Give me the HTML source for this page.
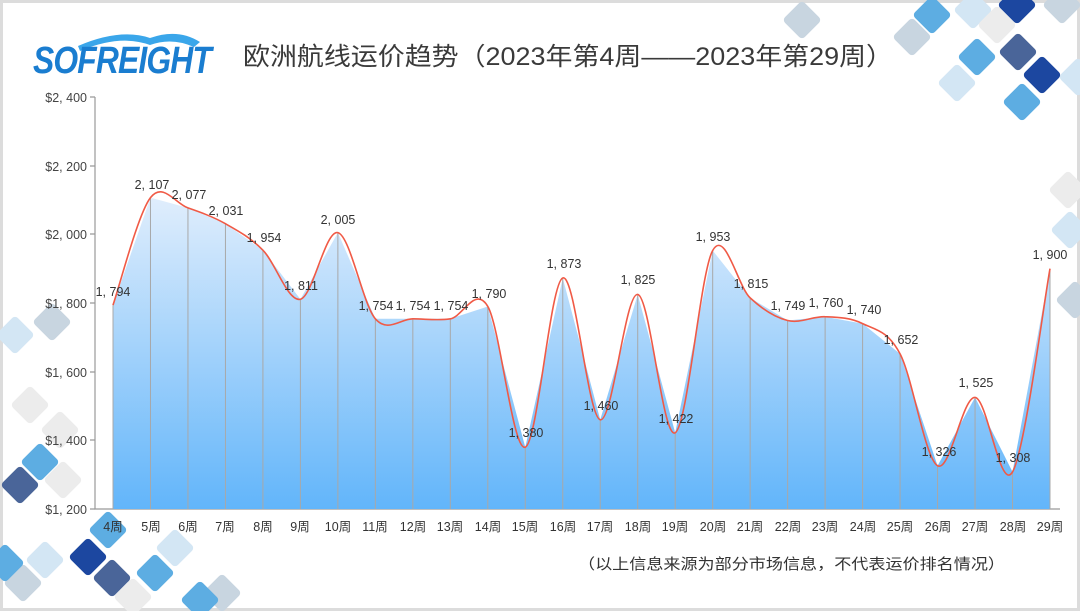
<!DOCTYPE html>
<html><head><meta charset="utf-8"><style>
html,body{margin:0;padding:0;background:#fff}
body{width:1080px;height:611px;overflow:hidden;position:relative}
.fr{position:absolute;left:0;top:0;width:1074px;height:605px;border:3px solid #dcdcdc;}
svg{position:absolute;left:0;top:0}
text{font-family:"Liberation Sans","Noto Sans CJK SC",sans-serif}
</style></head><body>
<div class="fr"></div>
<svg width="1080" height="611" viewBox="0 0 1080 611" xmlns="http://www.w3.org/2000/svg">
<defs>
<linearGradient id="g" gradientUnits="userSpaceOnUse" x1="0" y1="190" x2="0" y2="509">
<stop offset="0" stop-color="#e3effc"/><stop offset="1" stop-color="#62b5fa"/>
</linearGradient>
<g id="d"><rect x="-14" y="-14" width="28" height="28" rx="4" transform="rotate(45)"/></g>
</defs>
<g id="dia"></g>
<!-- logo -->
<path d="M78 46 Q120 28 150 38 Q178 28 200 42 L194 47 Q172 37 150 45 Q120 34 80 51Z" fill="#3aa6ea"/>
<text x="33" y="73" font-size="38" font-weight="bold" font-style="italic" fill="#1a7dd0" letter-spacing="-1" textLength="178" lengthAdjust="spacingAndGlyphs">SOFREIGHT</text>
<text x="243" y="65" font-size="25" fill="#3a3a3a" textLength="650" lengthAdjust="spacingAndGlyphs">欧洲航线运价趋势（2023年第4周——2023年第29周）</text>
<!-- axes -->
<g stroke="#999" stroke-width="1.2" fill="none">
<path d="M95 97V509H1060"/>
<path d="M90 97H95M90 166H95M90 234H95M90 303H95M90 372H95M90 440H95M90 509H95"/>
</g>
<g font-size="12.5" fill="#444" text-anchor="end">
<text x="87" y="102">$2, 400</text><text x="87" y="171">$2, 200</text><text x="87" y="239">$2, 000</text>
<text x="87" y="308">$1, 800</text><text x="87" y="377">$1, 600</text><text x="87" y="445">$1, 400</text><text x="87" y="514">$1, 200</text>
</g>
<path id="area" fill="url(#g)"/>
<g id="vl" stroke="#a8a8a8" stroke-width="1"></g>
<path id="curve" fill="none" stroke="#f05a46" stroke-width="1.6"/>
<g font-size="12.5" fill="#333" text-anchor="middle">
<text x="113" y="296">1, 794</text><text x="152" y="189">2, 107</text><text x="189" y="199">2, 077</text><text x="226" y="215">2, 031</text>
<text x="264" y="242">1, 954</text><text x="301" y="290">1, 811</text><text x="338" y="224">2, 005</text><text x="376" y="310">1, 754</text>
<text x="413" y="310">1, 754</text><text x="451" y="310">1, 754</text><text x="489" y="298">1, 790</text><text x="526" y="437">1, 380</text>
<text x="564" y="268">1, 873</text><text x="601" y="410">1, 460</text><text x="638" y="284">1, 825</text><text x="676" y="423">1, 422</text>
<text x="713" y="241">1, 953</text><text x="751" y="288">1, 815</text><text x="788" y="310">1, 749</text><text x="826" y="307">1, 760</text>
<text x="864" y="314">1, 740</text><text x="901" y="344">1, 652</text><text x="939" y="456">1, 326</text><text x="976" y="387">1, 525</text>
<text x="1013" y="462">1, 308</text><text x="1050" y="259">1, 900</text>
</g>
<g font-size="12.5" fill="#333" text-anchor="middle">
<text x="113" y="531">4周</text><text x="151" y="531">5周</text><text x="188" y="531">6周</text><text x="225" y="531">7周</text><text x="263" y="531">8周</text>
<text x="300" y="531">9周</text><text x="338" y="531">10周</text><text x="375" y="531">11周</text><text x="413" y="531">12周</text><text x="450" y="531">13周</text>
<text x="488" y="531">14周</text><text x="525" y="531">15周</text><text x="563" y="531">16周</text><text x="600" y="531">17周</text><text x="638" y="531">18周</text>
<text x="675" y="531">19周</text><text x="713" y="531">20周</text><text x="750" y="531">21周</text><text x="788" y="531">22周</text><text x="825" y="531">23周</text>
<text x="863" y="531">24周</text><text x="900" y="531">25周</text><text x="938" y="531">26周</text><text x="975" y="531">27周</text><text x="1013" y="531">28周</text><text x="1050" y="531">29周</text>
</g>
<text x="578" y="569" font-size="15" fill="#333" textLength="427" lengthAdjust="spacingAndGlyphs">（以上信息来源为部分市场信息，不代表运价排名情况）</text>
</svg>
<script>
var v=[1794,2107,2077,2031,1954,1811,2005,1754,1754,1754,1790,1380,1873,1460,1825,1422,1953,1815,1749,1760,1740,1652,1326,1525,1308,1900];
var p=v.map(function(a,i){return [113+37.48*i,509-(a-1200)*0.3433];});
var a="M113 509";p.forEach(function(q){a+="L"+q[0]+" "+q[1];});a+="L1050 509Z";
document.getElementById('area').setAttribute('d',a);
var c="M"+p[0][0]+" "+p[0][1],t=0.5;
for(var i=0;i<p.length-1;i++){var p0=p[Math.max(0,i-1)],p1=p[i],p2=p[i+1],p3=p[Math.min(p.length-1,i+2)];
c+="C"+(p1[0]+(p2[0]-p0[0])*t/3)+" "+(p1[1]+(p2[1]-p0[1])*t/3)+" "+(p2[0]-(p3[0]-p1[0])*t/3)+" "+(p2[1]-(p3[1]-p1[1])*t/3)+" "+p2[0]+" "+p2[1];}
document.getElementById('curve').setAttribute('d',c);
var vl="";p.forEach(function(q){vl+='<line x1="'+q[0]+'" y1="'+q[1]+'" x2="'+q[0]+'" y2="509"/>';});
document.getElementById('vl').innerHTML=vl;
var D=[[802,20,"#c8d5e0"],[912,37,"#c8d5e0"],[932,15,"#5dade2"],[973,10,"#d3e6f4"],[1017,5,"#1c47a0"],[997,25,"#ececec"],[977,57,"#5dade2"],[1018,52,"#4a6599"],[1042,75,"#1c47a0"],[957,83,"#d3e6f4"],[1022,102,"#5dade2"],[1062,5,"#c8d5e0"],[1078,77,"#d3e6f4"],[1068,190,"#ececec"],[1070,230,"#d3e6f4"],[1075,300,"#c8d5e0"],
[40,462,"#5dade2"],[20,485,"#4a6599"],[63,480,"#ececec"],[60,430,"#ececec"],[108,530,"#5dade2"],[88,557,"#1c47a0"],[112,578,"#4a6599"],[45,560,"#d3e6f4"],[23,583,"#c8d5e0"],[5,563,"#5dade2"],[175,548,"#d3e6f4"],[155,573,"#5dade2"],[133,597,"#ececec"],[222,593,"#c8d5e0"],[15,335,"#d3e6f4"],[52,322,"#c8d5e0"],[30,405,"#ececec"],[200,600,"#5dade2"]];
var s="";D.forEach(function(d){s+='<use href="#d" x="'+d[0]+'" y="'+d[1]+'" fill="'+d[2]+'"/>';});
document.getElementById('dia').innerHTML=s;
</script>
</body></html>
